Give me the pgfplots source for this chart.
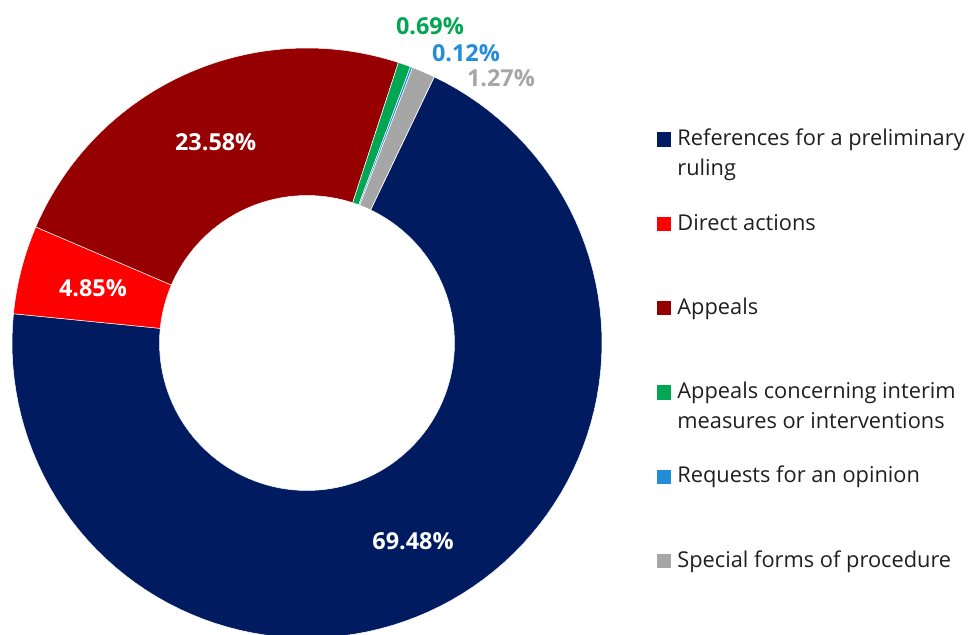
\documentclass[border=0pt]{standalone}
\usepackage{pgfplots}
\usepackage{pgfplotstable}
\pgfplotsset{compat=1.18}
\usepackage{fontspec}
\setmainfont{Open Sans}
\definecolor{cnavy}{RGB}{0,27,95}
\definecolor{cred}{RGB}{255,0,0}
\definecolor{cdred}{RGB}{150,0,0}
\definecolor{cgreen}{RGB}{0,166,81}
\definecolor{cblue}{RGB}{35,142,215}
\definecolor{cgray}{RGB}{166,166,166}
\pgfplotstableread{
idx pct
0 69.48
1 4.85
2 23.58
3 0.69
4 0.12
5 1.27
}\slices
\newcommand\donutslice[3]{% color, start angle, end angle
  \addplot[fill=#1, draw=white, line width=0.25pt, samples at={0,1,...,201}]
   ({\cx + (x<=100 ? \Ro : \Ri)*cos(x<=100 ? #2+(#3-#2)*x/100 : #3-(#3-#2)*(x-101)/100)},
    {\cy + (x<=100 ? \Ro : \Ri)*sin(x<=100 ? #2+(#3-#2)*x/100 : #3-(#3-#2)*(x-101)/100)}) -- cycle;
}
\newcommand\legkey[2]{%
  \addplot[only marks, mark=square*, mark size=3.35pt, mark options={draw=#1, line width=0pt, fill=#1}] coordinates {(664,#2)};
}
\begin{document}
\begin{tikzpicture}
\def\cx{307}\def\cy{291}\def\Ro{295}\def\Ri{147.5}
\pgfplotstablegetelem{0}{pct}\of\slices\let\pA\pgfplotsretval
\pgfplotstablegetelem{1}{pct}\of\slices\let\pB\pgfplotsretval
\pgfplotstablegetelem{2}{pct}\of\slices\let\pC\pgfplotsretval
\pgfplotstablegetelem{3}{pct}\of\slices\let\pD\pgfplotsretval
\pgfplotstablegetelem{4}{pct}\of\slices\let\pE\pgfplotsretval
\pgfplotstablegetelem{5}{pct}\of\slices\let\pF\pgfplotsretval
\pgfmathsetmacro\sA{64.43}
\pgfmathsetmacro\sB{\sA-3.6*\pA}
\pgfmathsetmacro\sC{\sB-3.6*\pB}
\pgfmathsetmacro\sD{\sC-3.6*\pC}
\pgfmathsetmacro\sE{\sD-3.6*\pD}
\pgfmathsetmacro\sF{\sE-3.6*\pE}
\pgfmathsetmacro\sG{\sF-3.6*\pF}
\pgfmathsetmacro\mB{(\sB+\sC)/2}
\pgfmathsetmacro\mC{(\sC+\sD)/2}
\begin{axis}[
  scale only axis, width=484pt, height=317pt,
  xmin=0, xmax=968, ymin=0, ymax=634,
  hide axis, clip=true,
]
\donutslice{cnavy}{\sA}{\sB}
\donutslice{cred}{\sB}{\sC}
\donutslice{cdred}{\sC}{\sD}
\donutslice{cgreen}{\sD}{\sE}
\donutslice{cblue}{\sE}{\sF}
\donutslice{cgray}{\sF}{\sG}
% legend keys
\legkey{cnavy}{494.5}
\legkey{cred}{410.2}
\legkey{cdred}{325.9}
\legkey{cgreen}{241.5}
\legkey{cblue}{157.3}
\legkey{cgray}{73}
% legend texts
\begin{scope}[every node/.style={anchor=base west, inner sep=0pt, font=\fontsize{10.9}{13}\selectfont, text=black!88}]
\node at (axis cs:677,488.3) {References for a preliminary};
\node at (axis cs:677,458.3) {ruling};
\node at (axis cs:677,404.0) {Direct actions};
\node at (axis cs:677,319.7) {Appeals};
\node at (axis cs:677,235.3) {Appeals concerning interim};
\node at (axis cs:677,205.3) {measures or interventions};
\node at (axis cs:677,151.1) {Requests for an opinion};
\node at (axis cs:677,66.8) {Special forms of procedure};
\end{scope}
% data labels
\begin{scope}[every node/.style={inner sep=0pt, font=\fontsize{11.7}{13}\selectfont\bfseries}]
\node[text=white] at (axis cs:413,93) {69.48\%};
\node[text=white] at (axis cs:{\cx+221*cos(\mB)},{\cy+221*sin(\mB)}) {4.85\%};
\node[text=white] at (axis cs:{\cx+221*cos(\mC)},{\cy+221*sin(\mC)}) {23.58\%};
\node[text=cgreen] at (axis cs:430,608) {0.69\%};
\node[text=cblue] at (axis cs:466,581) {0.12\%};
\node[text=cgray] at (axis cs:501,556) {1.27\%};
\end{scope}
\end{axis}
\pgfresetboundingbox
\useasboundingbox (current axis.south west) rectangle (current axis.north east);
\end{tikzpicture}
\end{document}
